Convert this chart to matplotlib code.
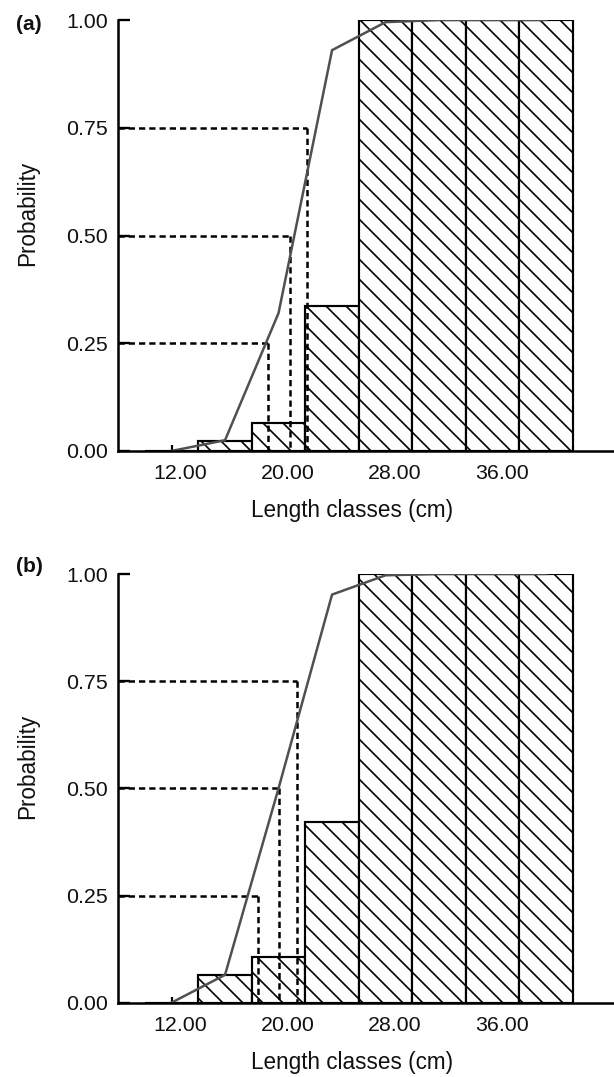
import matplotlib
matplotlib.use("Agg")
import matplotlib.pyplot as plt
import matplotlib.transforms as mtransforms
import numpy as np

plt.rcParams['font.family'] = ['Liberation Sans', 'DejaVu Sans']
plt.rcParams['hatch.linewidth'] = 1.0
plt.rcParams['hatch.color'] = 'black'

# length classes (cm), bar = class of width 4 cm
class_mid = [12, 16, 20, 24, 28, 32, 36, 40]
tick_pos = [12, 20, 28, 36]
prob_ticks = [0.0, 0.25, 0.5, 0.75, 1.0]
levels = [0.25, 0.50, 0.75]

# panel (a)
obs_a = [0.0, 0.024, 0.064, 0.336, 1.0, 1.0, 1.0, 1.0]
fit_a = [0.0, 0.025, 0.32, 0.93, 0.995, 1.0, 1.0, 1.0]
lmat_a = [19.2, 20.83, 22.12]

# panel (b)
obs_b = [0.0, 0.065, 0.107, 0.422, 1.0, 1.0, 1.0, 1.0]
fit_b = [0.0, 0.065, 0.50, 0.952, 0.997, 1.0, 1.0, 1.0]
lmat_b = [18.45, 20.0, 21.37]

DPI = 120
W, H = 614, 1077
fig = plt.figure(figsize=(W / DPI, H / DPI), dpi=DPI)


def panel(rect, obs, fit, lmat, letter, letter_y):
    ax = fig.add_axes(rect)
    ax.bar(class_mid, obs, width=4, facecolor='white', edgecolor='black',
           linewidth=1.3, hatch='\\\\', zorder=2)
    ax.plot(class_mid, fit, color='#505050', lw=1.5, zorder=4)
    for lev, L in zip(levels, lmat):
        ax.plot([8, L], [lev, lev], color='black', lw=1.5, dashes=(2.5, 1.6),
                zorder=3, clip_on=False)
        ax.plot([L, L], [lev, 0], color='black', lw=1.5, dashes=(2.5, 1.6),
                zorder=3, clip_on=False)

    ax.set_xlim(8, 45)
    ax.set_ylim(0, 1)
    for s in ['top', 'right']:
        ax.spines[s].set_visible(False)
    for s in ['left', 'bottom']:
        ax.spines[s].set_linewidth(1.5)
        ax.spines[s].set_zorder(5)

    ax.set_yticks(prob_ticks)
    ax.set_yticklabels(['%.2f' % v for v in prob_ticks])
    ax.set_xticks(tick_pos)
    ax.set_xticklabels(['%.2f' % v for v in tick_pos])
    ax.tick_params(axis='y', direction='in', length=7, width=1.4, pad=6,
                   labelsize=12.8, labelcolor='#111111')
    ax.tick_params(axis='x', direction='in', length=3.5, width=1.3, pad=8,
                   labelsize=12.8, labelcolor='#111111')
    shift = mtransforms.ScaledTranslation(9 / DPI, 0, fig.dpi_scale_trans)
    for lab in ax.get_xticklabels():
        lab.set_transform(lab.get_transform() + shift)

    ax.set_xlabel('Length classes (cm)', fontsize=13.5, color='#111111')
    ax.xaxis.set_label_coords(0.473, -0.112)
    ax.set_ylabel('Probability', fontsize=13.5, color='#111111', va='center')
    ax.yaxis.set_label_coords(-0.182, 0.552)

    fig.text(29 / W, 1 - letter_y / H, letter, ha='center', va='center',
             fontsize=12.5, fontweight='bold', color='#111111')
    return ax


panel([118 / W, 1 - 451 / H, 495 / W, 431 / H], obs_a, fit_a, lmat_a, '(a)', 24)
panel([118 / W, 1 - 1002.7 / H, 495 / W, 428.7 / H], obs_b, fit_b, lmat_b, '(b)', 567)

fig.savefig('out.png', dpi=DPI)
